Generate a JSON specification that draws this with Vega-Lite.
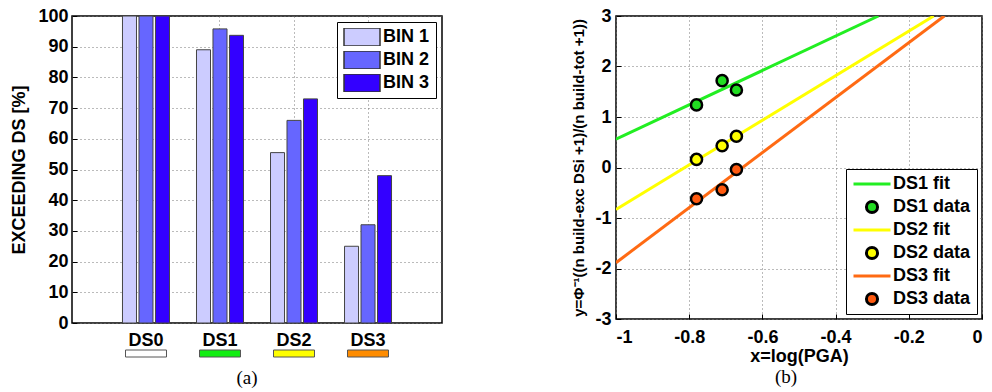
{
  "$schema": "https://vega.github.io/schema/vega-lite/v6.json",
  "background": "white",
  "padding": {"left": 10, "top": 6, "right": 5, "bottom": 5},
  "config": {
    "font": "Liberation Sans",
    "view": {"stroke": "black", "strokeWidth": 1.5},
    "axis": {
      "labelFont": "Liberation Sans", "labelFontWeight": "bold", "labelFontSize": 18, "labelColor": "black",
      "titleFont": "Liberation Sans", "titleFontWeight": "bold", "titleFontSize": 18, "titleColor": "black",
      "domain": false, "ticks": true, "tickSize": -5, "tickColor": "black", "tickWidth": 1,
      "gridColor": "#777", "gridDash": [1, 3], "gridWidth": 1, "gridOpacity": 1
    },
    "legend": {
      "labelFont": "Liberation Sans", "labelFontWeight": "bold", "labelFontSize": 18, "labelColor": "black",
      "strokeColor": "black", "fillColor": "white", "title": null
    }
  },
  "datasets": {
    "bars": [
      {"ds": "DS0", "bin": "BIN 1", "pct": 100},
      {"ds": "DS0", "bin": "BIN 2", "pct": 100},
      {"ds": "DS0", "bin": "BIN 3", "pct": 100},
      {"ds": "DS1", "bin": "BIN 1", "pct": 89},
      {"ds": "DS1", "bin": "BIN 2", "pct": 95.8},
      {"ds": "DS1", "bin": "BIN 3", "pct": 93.7},
      {"ds": "DS2", "bin": "BIN 1", "pct": 55.5},
      {"ds": "DS2", "bin": "BIN 2", "pct": 66},
      {"ds": "DS2", "bin": "BIN 3", "pct": 73},
      {"ds": "DS3", "bin": "BIN 1", "pct": 25},
      {"ds": "DS3", "bin": "BIN 2", "pct": 32},
      {"ds": "DS3", "bin": "BIN 3", "pct": 48}
    ],
    "strip": [
      {"ds": "DS0"}, {"ds": "DS1"}, {"ds": "DS2"}, {"ds": "DS3"}
    ],
    "fits": [
      {"series": "DS1 fit", "x": -1, "y": 0.56},
      {"series": "DS1 fit", "x": -0.283, "y": 3},
      {"series": "DS2 fit", "x": -1, "y": -0.83},
      {"series": "DS2 fit", "x": -0.132, "y": 3},
      {"series": "DS3 fit", "x": -1, "y": -1.885},
      {"series": "DS3 fit", "x": -0.103, "y": 3}
    ],
    "pts": [
      {"series": "DS1 data", "x": -0.78, "y": 1.24},
      {"series": "DS1 data", "x": -0.71, "y": 1.72},
      {"series": "DS1 data", "x": -0.671, "y": 1.535},
      {"series": "DS2 data", "x": -0.78, "y": 0.16},
      {"series": "DS2 data", "x": -0.71, "y": 0.43},
      {"series": "DS2 data", "x": -0.671, "y": 0.62},
      {"series": "DS3 data", "x": -0.78, "y": -0.62},
      {"series": "DS3 data", "x": -0.71, "y": -0.44},
      {"series": "DS3 data", "x": -0.671, "y": -0.04}
    ]
  },
  "hconcat": [
    {
      "vconcat": [
        {
          "width": 370,
          "height": 307,
          "data": {"name": "bars"},
          "mark": {"type": "bar", "stroke": "#444", "strokeWidth": 1},
          "encoding": {
            "x": {
              "field": "ds", "type": "nominal",
              "scale": {"domain": ["DS0", "DS1", "DS2", "DS3"], "paddingInner": 0.365, "paddingOuter": 0.682},
              "axis": {"title": null, "labelAngle": 0, "labelPadding": 8, "grid": true, "ticks": false}
            },
            "xOffset": {"field": "bin", "type": "nominal", "scale": {"paddingInner": 0.15, "paddingOuter": 0}},
            "y": {
              "field": "pct", "type": "quantitative",
              "scale": {"domain": [0, 100], "nice": false},
              "axis": {"values": [0, 10, 20, 30, 40, 50, 60, 70, 80, 90, 100], "title": "EXCEEDING DS [%]", "titlePadding": 9, "labelPadding": 9, "grid": true}
            },
            "color": {
              "field": "bin", "type": "nominal",
              "scale": {"domain": ["BIN 1", "BIN 2", "BIN 3"], "range": ["#ccccff", "#6666ff", "#3300ff"]},
              "legend": {
                "orient": "top-right", "offset": 6, "padding": 6, "rowPadding": 5, "labelOffset": 2,
                "clipHeight": 18,
                "symbolType": "M-1,-0.5H1V0.5H-1Z", "symbolSize": 1296,
                "symbolStrokeColor": "#333", "symbolStrokeWidth": 1.5, "symbolOpacity": 1
              }
            }
          }
        },
        {
          "width": 370,
          "height": 7,
          "data": {"name": "strip"},
          "view": {"stroke": null},
          "title": {"text": "(a)", "orient": "bottom", "font": "Liberation Serif", "fontSize": 19, "fontWeight": "normal", "color": "black", "offset": 11, "dx": -10},
          "mark": {"type": "bar", "stroke": "#555", "strokeWidth": 1},
          "encoding": {
            "x": {
              "field": "ds", "type": "nominal",
              "scale": {"domain": ["DS0", "DS1", "DS2", "DS3"], "paddingInner": 0.446, "paddingOuter": 0.723},
              "axis": null
            },
            "color": {
              "field": "ds", "type": "nominal",
              "scale": {"domain": ["DS0", "DS1", "DS2", "DS3"], "range": ["#ffffff", "#11ee11", "#ffff00", "#ff8c00"]},
              "legend": null
            }
          }
        }
      ],
      "spacing": -4,
      "resolve": {"scale": {"x": "independent", "color": "independent"}, "legend": {"color": "independent"}}
    },
    {
      "width": 366,
      "height": 303,
      "title": {"text": "(b)", "orient": "bottom", "font": "Liberation Serif", "fontSize": 19, "fontWeight": "normal", "color": "black", "offset": 3, "dx": -13},
      "layer": [
        {
          "data": {"name": "fits"},
          "mark": {"type": "line", "strokeWidth": 3, "clip": true},
          "encoding": {
            "x": {
              "field": "x", "type": "quantitative",
              "scale": {"domain": [-1, 0], "nice": false},
              "axis": {"values": [-1, -0.8, -0.6, -0.4, -0.2, 0], "labelExpr": "'' + datum.value", "title": "x=log(PGA)", "labelPadding": 14, "titlePadding": 1, "grid": true}
            },
            "y": {
              "field": "y", "type": "quantitative",
              "scale": {"domain": [-3, 3], "nice": false},
              "axis": {"values": [-3, -2, -1, 0, 1, 2, 3], "labelExpr": "'' + datum.value", "title": "y=Φ⁻¹((n build-exc DSi +1)/(n build-tot +1))", "titleFontSize": 15, "titlePadding": 8, "labelPadding": 10, "grid": true}
            },
            "color": {
              "field": "series", "type": "nominal",
              "scale": {
                "domain": ["DS1 fit", "DS2 fit", "DS3 fit", "DS1 data", "DS2 data", "DS3 data"],
                "range": ["#22ee22", "#ffff00", "#ff6a13", "#22dd22", "#ffff00", "#ff5a10"]
              },
              "legend": null
            }
          }
        },
        {
          "data": {"name": "pts"},
          "mark": {"type": "point", "filled": true, "stroke": "black", "strokeWidth": 2.5, "size": 1369, "opacity": 1},
          "encoding": {
            "x": {"field": "x", "type": "quantitative"},
            "y": {"field": "y", "type": "quantitative"},
            "color": {"field": "series", "type": "nominal", "legend": null},
            "shape": {
              "field": "series", "type": "nominal",
              "scale": {
                "domain": ["DS1 fit", "DS1 data", "DS2 fit", "DS2 data", "DS3 fit", "DS3 data"],
                "range": [
                  "M-1,0H1", "M0.3,0A0.3,0.3,0,1,1,-0.3,0A0.3,0.3,0,1,1,0.3,0Z",
                  "M-1,0H1", "M0.3,0A0.3,0.3,0,1,1,-0.3,0A0.3,0.3,0,1,1,0.3,0Z",
                  "M-1,0H1", "M0.3,0A0.3,0.3,0,1,1,-0.3,0A0.3,0.3,0,1,1,0.3,0Z"
                ]
              },
              "legend": {
                "orient": "bottom-right", "offset": 5, "padding": 6, "rowPadding": 5, "labelOffset": 1,
                "clipHeight": 18,
                "symbolSize": 1369, "symbolStrokeWidth": 3, "symbolOpacity": 1,
                "symbolFillColor": {"expr": "indexof(datum.value, 'data') >= 0 ? (indexof(datum.value, 'DS1') >= 0 ? '#22dd22' : indexof(datum.value, 'DS2') >= 0 ? '#ffff00' : '#ff5a10') : 'transparent'"},
                "symbolStrokeColor": {"expr": "indexof(datum.value, 'data') >= 0 ? 'black' : (indexof(datum.value, 'DS1') >= 0 ? '#22ee22' : indexof(datum.value, 'DS2') >= 0 ? '#ffff00' : '#ff6a13')"}
              }
            }
          }
        }
      ]
    }
  ],
  "spacing": 128,
  "resolve": {"scale": {"color": "independent", "x": "independent", "y": "independent", "shape": "independent"}, "legend": {"color": "independent", "shape": "independent"}}
}
